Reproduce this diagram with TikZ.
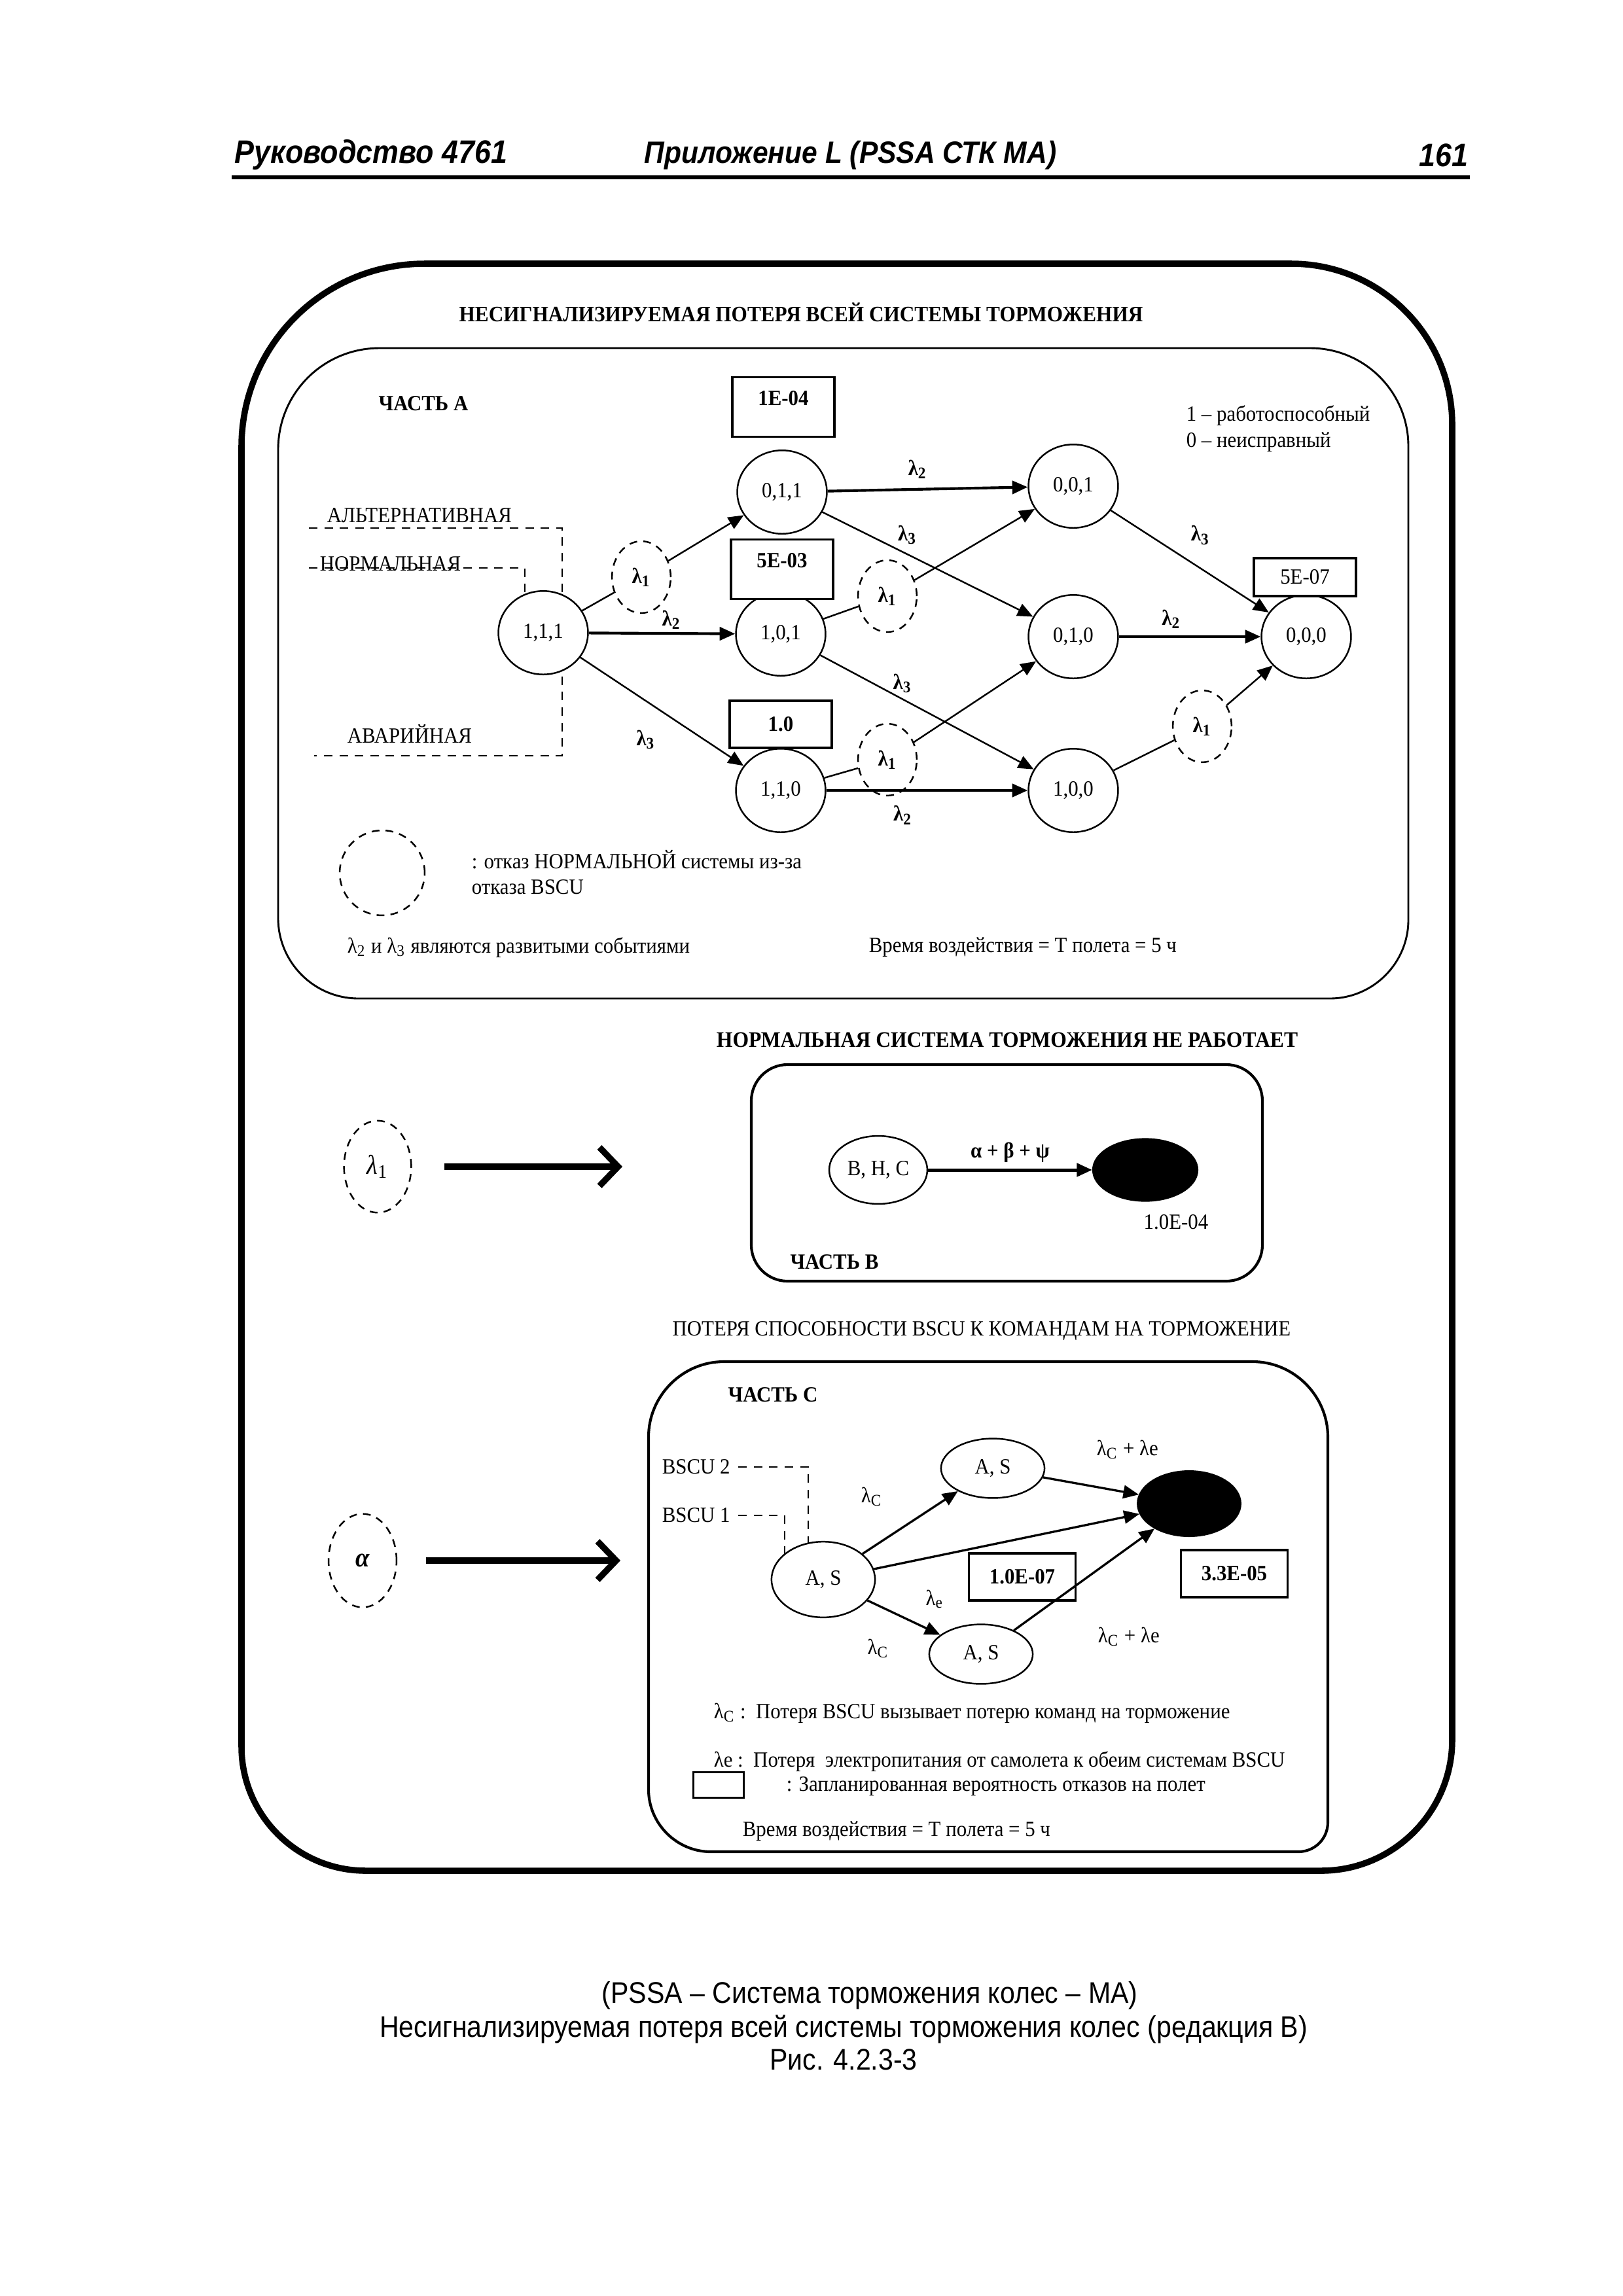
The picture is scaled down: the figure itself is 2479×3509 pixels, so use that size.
\documentclass[tikz,border=0pt]{standalone}
\usepackage{fontspec}
\setmainfont[FakeStretch=0.93]{Liberation Serif}
\newfontfamily\hdrfont[FakeStretch=0.9]{Liberation Sans}
\usetikzlibrary{shapes.geometric, arrows.meta, positioning, backgrounds}
\newcommand\dgfont{\fontsize{8}{9.5}\selectfont}
\tikzset{
  stnode/.style={
    ellipse, draw, line width=0.6pt, fill=white, inner sep=0pt,
    minimum width=11.6mm, minimum height=10.8mm, font=\dgfont
  },
  bscunode/.style={stnode, minimum width=13.4mm, minimum height=7.7mm},
  endnode/.style={
    ellipse, draw, fill=black, inner sep=0pt,
    minimum width=13.4mm, minimum height=8.4mm
  },
  failnode/.style={
    ellipse, draw, line width=0.6pt, dash pattern=on 1mm off 0.8mm,
    fill=white, inner sep=0pt, minimum width=7.6mm, minimum height=9.3mm,
    font=\dgfont\bfseries
  },
  probbox/.style={
    draw, line width=0.8pt, fill=white, inner sep=1pt,
    minimum width=13.2mm, minimum height=7.7mm, font=\dgfont\bfseries
  },
  trarrow/.style={-{Triangle[length=2mm,width=1.7mm]}, line width=0.6pt},
  trlink/.style={line width=0.6pt},
  lamlabel/.style={font=\dgfont\bfseries, inner sep=0pt},
  feedline/.style={line width=0.7pt, dash pattern=on 1.1mm off 0.9mm},
  bigarrow/.style={-{Straight Barb[length=2.4mm,width=5mm]}, line width=2.3pt},
  textlabel/.style={font=\dgfont, inner sep=0pt, align=left},
  headtitle/.style={font=\dgfont\bfseries, inner sep=0pt},
  hdrtext/.style={font=\hdrfont\bfseries\itshape\fontsize{12}{14}\selectfont, inner sep=0pt},
  captext/.style={font=\hdrfont\fontsize{11}{13}\selectfont, inner sep=0pt},
}

\begin{document}
\begin{tikzpicture}[x=0.08471mm, y=-0.08471mm]
  \useasboundingbox (0,0) rectangle (2479,3509);

  % Page header
  \node[hdrtext, anchor=west] (hdrl) at (358,237) {Руководство 4761};
  \node[hdrtext, anchor=west, font=\hdrfont\bfseries\itshape\fontsize{11.4}{14}\selectfont] (hdrm) at (984,237) {Приложение L (PSSA СТК МА)};
  \node[hdrtext, anchor=east] (hdrr) at (2244,237) {161};
  \draw[line width=1.3pt] (354,271) -- (2246,271);

  % Outer frame
  \draw[line width=2.3pt] (649,403) -- (1973,403)
    .. controls (2109,403) and (2219,513) .. (2219,649) -- (2219,2659)
    .. controls (2219,2769) and (2129,2859) .. (2019,2859) -- (559,2859)
    .. controls (454,2859) and (369,2774) .. (369,2669) -- (369,683)
    .. controls (369,528) and (494,403) .. cycle;

  % Part A
  \node[headtitle, font=\fontsize{8.1}{10}\selectfont\bfseries] (ttlA) at (1224,477)
    {НЕСИГНАЛИЗИРУЕМАЯ ПОТЕРЯ ВСЕЙ СИСТЕМЫ ТОРМОЖЕНИЯ};
  \draw[line width=0.7pt] (580,532) -- (2002,532)
    .. controls (2085,532) and (2152,599) .. (2152,682) -- (2152,1406)
    .. controls (2152,1472) and (2098,1526) .. (2032,1526) -- (548,1526)
    .. controls (480,1526) and (425,1471) .. (425,1403) -- (425,687)
    .. controls (425,601) and (494,532) .. cycle;
  \node[headtitle] (partA) at (647,617) {ЧАСТЬ А};
  \node[textlabel, anchor=west] (legA) at (1812,655)
    {1 – работоспособный\\0 – неисправный};

  \node[stnode] (s111) at (830,967) {1,1,1};
  \node[stnode] (s011) at (1195,752) {0,1,1};
  \node[stnode] (s101) at (1193,969) {1,0,1};
  \node[stnode] (s110) at (1193,1208) {1,1,0};
  \node[stnode] (s001) at (1640,743) {0,0,1};
  \node[stnode] (s010) at (1640,973) {0,1,0};
  \node[stnode] (s100) at (1640,1208) {1,0,0};
  \node[stnode] (s000) at (1996,973) {0,0,0};

  \node[failnode] (fa) at (980,882) {λ\textsubscript{1}};
  \node[failnode] (fb) at (1356,911) {λ\textsubscript{1}};
  \node[failnode] (fc) at (1356,1161) {λ\textsubscript{1}};
  \node[failnode] (fd) at (1837,1110) {λ\textsubscript{1}};

  \node[probbox, text depth=2.3mm] (p011) at (1197,622) {1E-04};
  \node[probbox, text depth=2.3mm] (p101) at (1195,870) {5E-03};
  \node[probbox, minimum height=6.1mm] (p110) at (1193,1107) {1.0};
  \node[probbox, minimum height=4.9mm, font=\dgfont] (p000) at (1994,882) {5E-07};

  % input lines
  \coordinate (altin) at (472,807);
  \coordinate (altdn) at (859,1155);
  \coordinate (emgout) at (480,1155);
  \coordinate (nrmin) at (472,868);
  \coordinate (nrmdn) at (802,967);
  \begin{scope}[on background layer]
    \draw[feedline] (altin) -| (altdn) -- (emgout);
    \draw[feedline] (nrmin) -| (nrmdn);
  \end{scope}
  \node[textlabel, anchor=west] (altlbl) at (499,788) {АЛЬТЕРНАТИВНАЯ};
  \node[textlabel, anchor=west] (nrmlbl) at (488,862) {НОРМАЛЬНАЯ};
  \node[textlabel, anchor=west] (emglbl) at (530,1121) {АВАРИЙНАЯ};

  % transitions
  \draw[trlink] (s111) -- (fa);
  \draw[trarrow] (fa) -- (s011);
  \draw[trarrow, line width=1pt] (s111) -- node[lamlabel, pos=0.565, yshift=1.8mm] (lb1) {λ\textsubscript{2}} (s101);
  \draw[trarrow] (s111) -- node[lamlabel, pos=0.515, xshift=-2.4mm, yshift=-3.4mm] (lb2) {λ\textsubscript{3}} (s110);
  \draw[trarrow, line width=1pt] (s011) -- node[lamlabel, pos=0.45, yshift=2.6mm] (lb3) {λ\textsubscript{2}} (s001);
  \draw[trarrow] (s011) -- node[lamlabel, pos=0.36, xshift=1.2mm, yshift=1.9mm] (lb4) {λ\textsubscript{3}} (s010);
  \draw[trlink] (s101) -- (fb);
  \draw[trarrow] (fb) -- (s001);
  \draw[trarrow] (s101) -- node[lamlabel, pos=0.36, xshift=0.7mm, yshift=1.7mm] (lb5) {λ\textsubscript{3}} (s100);
  \draw[trlink] (s110) -- (fc);
  \draw[trarrow] (fc) -- (s010);
  \draw[trarrow, line width=1pt] (s110) -- node[lamlabel, pos=0.38, yshift=-3.2mm] (lb6) {λ\textsubscript{2}} (s100);
  \draw[trarrow] (s001) -- node[lamlabel, pos=0.47, xshift=2mm, yshift=3mm] (lb7) {λ\textsubscript{3}} (s000);
  \draw[trarrow, line width=1pt] (s010) -- node[lamlabel, pos=0.37, yshift=2.3mm] (lb8) {λ\textsubscript{2}} (s000);
  \draw[trlink] (s100) -- (fd);
  \draw[trarrow] (fd) -- (s000);

  % legend of part A
  \node[failnode, minimum width=11mm, minimum height=11mm] (fkey) at (584,1334) {};
  \node[textlabel, anchor=west] (fkeytxt) at (720,1333)
    {: отказ НОРМАЛЬНОЙ системы из-за\\отказа BSCU};
  \node[textlabel, anchor=west] (devtxt) at (530,1448)
    {λ\textsubscript{2} и λ\textsubscript{3} являются развитыми событиями};
  \node[textlabel, anchor=west] (timeA) at (1327,1448)
    {Время воздействия = Т полета = 5 ч};

  % Part B
  \node[headtitle, font=\fontsize{8.2}{10}\selectfont\bfseries] (ttlB) at (1539,1589)
    {НОРМАЛЬНАЯ СИСТЕМА ТОРМОЖЕНИЯ НЕ РАБОТАЕТ};
  \draw[line width=1pt, rounded corners=4.7mm] (1148,1627) rectangle (1929,1958);
  \node[stnode, minimum width=12.7mm, minimum height=8.8mm] (bhc) at (1342,1788) {В, Н, С};
  \node[endnode, minimum width=13.6mm, minimum height=8.1mm] (lossB) at (1750,1788) {};
  \draw[trarrow, line width=1.2pt] (bhc) -- node[lamlabel, pos=0.5, yshift=2.3mm] (abp) {α + β + ψ} (lossB);
  \node[textlabel] (probB) at (1797,1868) {1.0E-04};
  \node[headtitle] (partB) at (1275,1929) {ЧАСТЬ В};

  \node[failnode, minimum width=8.7mm, minimum height=11.9mm, font=\fontsize{10}{12}\selectfont] (lam1) at (577,1783) {\textit{λ}\textsubscript{1}};
  \coordinate (tipB) at (951,1783);
  \draw[bigarrow, shorten <=4.2mm] (lam1) -- (tipB);

  % Part C
  \node[textlabel] (ttlC) at (1500,2034)
    {ПОТЕРЯ СПОСОБНОСТИ BSCU К КОМАНДАМ НА ТОРМОЖЕНИЕ};
  \draw[line width=1pt] (1106,2081) -- (1914,2081)
    .. controls (1977,2081) and (2029,2133) .. (2029,2196) -- (2029,2785)
    .. controls (2029,2810) and (2009,2830) .. (1984,2830) -- (1086,2830)
    .. controls (1034,2830) and (991,2787) .. (991,2735) -- (991,2196)
    .. controls (991,2133) and (1043,2081) .. cycle;
  \node[headtitle] (partC) at (1181,2132) {ЧАСТЬ С};

  \node[bscunode, minimum height=9.8mm] (as0) at (1258,2414) {A, S};
  \node[bscunode] (as1) at (1517,2244) {A, S};
  \node[bscunode] (as2) at (1499,2528) {A, S};
  \node[endnode, minimum height=8.5mm] (lossC) at (1817,2298) {};
  \node[probbox, minimum height=6.1mm, minimum width=13.8mm] (p107) at (1562,2410) {1.0E-07};
  \node[probbox, minimum height=6.1mm, minimum width=13.8mm] (p305) at (1886,2405) {3.3E-05};

  \node[textlabel, anchor=west] (b2) at (1011,2242) {BSCU 2};
  \node[textlabel, anchor=west] (b1) at (1011,2316) {BSCU 1};
  \coordinate (b2dn) at (1235,2414);
  \coordinate (b1dn) at (1199,2414);
  \begin{scope}[on background layer]
    \draw[feedline] (b2.east) ++(1mm,0) -| (b2dn);
    \draw[feedline] (b1.east) ++(1mm,0) -| (b1dn);
  \end{scope}

  \draw[trarrow, line width=0.8pt] (as0) -- node[lamlabel, font=\dgfont, pos=0.34, xshift=-3mm, yshift=4.6mm] (lc1) {λ\textsubscript{C}} (as1);
  \draw[trarrow, line width=0.8pt] (as0) -- node[lamlabel, font=\dgfont, pos=0.2, xshift=1mm, yshift=-5.3mm] (le1) {λ\textsubscript{e}} (lossC);
  \draw[trarrow, line width=0.8pt] (as0) -- node[lamlabel, font=\dgfont, pos=0.38, xshift=-2.2mm, yshift=-4.5mm] (lc2) {λ\textsubscript{C}} (as2);
  \draw[trarrow, line width=0.8pt] (as1) -- node[lamlabel, font=\dgfont, pos=0.81, xshift=0.9mm, yshift=5.4mm] (lce1) {λ\textsubscript{C} + λe} (lossC);
  \draw[trarrow, line width=0.8pt] (as2) -- node[lamlabel, font=\dgfont, pos=0.52, xshift=5.4mm, yshift=-7.7mm] (lce2) {λ\textsubscript{C} + λe} (lossC);

  % legend of part C
  \node[textlabel, anchor=west] (keyc) at (1090,2618)
    {λ\textsubscript{C}\ :\ \ Потеря BSCU вызывает потерю команд на торможение};
  \node[textlabel, anchor=west] (keye) at (1090,2692)
    {λe\ :\ \ Потеря\ \ электропитания от самолета к обеим системам BSCU};
  \node[draw, line width=0.8pt, minimum width=6.5mm, minimum height=3.3mm, inner sep=0pt] (keybox) at (1098,2728) {};
  \node[textlabel, anchor=west] (keyboxtxt) at (1201,2730)
    {: Запланированная вероятность отказов на полет};
  \node[textlabel, anchor=west] (timeC) at (1134,2799)
    {Время воздействия = Т полета = 5 ч};

  \node[failnode, minimum width=8.8mm, minimum height=12.1mm, font=\fontsize{10}{12}\selectfont] (alf) at (554,2385) {\textbf{\textit{α}}};
  \coordinate (tipC) at (948,2385);
  \draw[bigarrow, shorten <=3.7mm] (alf) -- (tipC);

  % Caption
  \node[captext] (cap1) at (1329,3050) {(PSSA – Система торможения колес – МА)};
  \node[captext] (cap2) at (1289,3101) {Несигнализируемая потеря всей системы торможения колес (редакция В)};
  \node[captext] (cap3) at (1289,3148) {Рис. 4.2.3-3};
\end{tikzpicture}
\end{document}
